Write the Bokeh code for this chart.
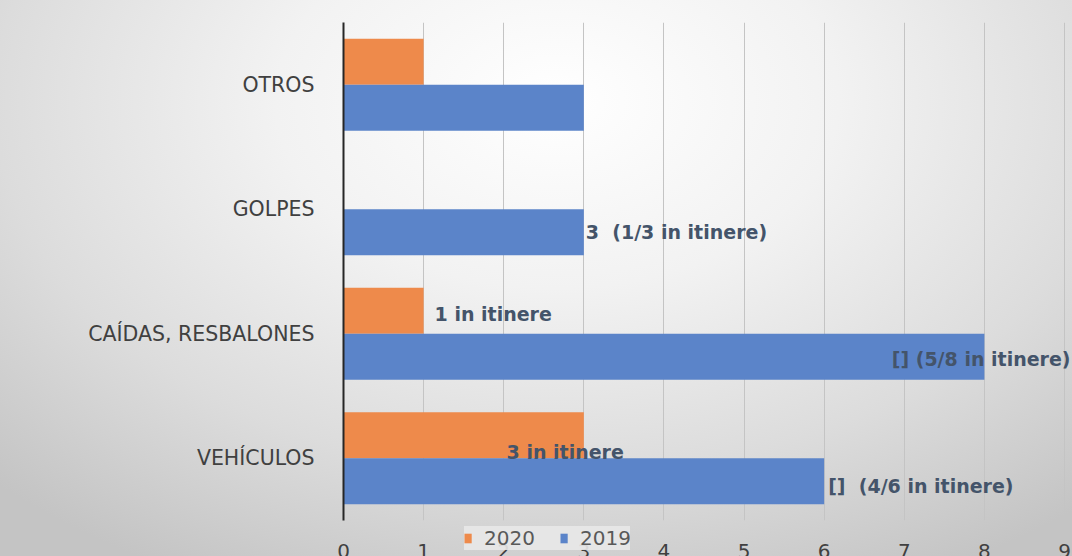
from bokeh.plotting import figure
from bokeh.layouts import column
from bokeh.models import (ColumnDataSource, Legend, LegendItem, InlineStyleSheet,
                          GlobalInlineStyleSheet, FixedTicker, Range1d)
from bokeh.transform import dodge
from bokeh.core.properties import value
from bokeh.embed import file_html
from bokeh.resources import INLINE

# ---- data ----
categories = ["VEHÍCULOS", "CAÍDAS, RESBALONES", "GOLPES", "OTROS"]
v2020 = [3, 1, 0, 1]
v2019 = [6, 8, 3, 3]
lbl2020 = ["3 in itinere", "1 in itinere", "", ""]
lbl2019 = ["[]  (4/6 in itinere)", "[] (5/8 in itinere)", "3  (1/3 in itinere)", ""]
series_names = ["2020", "2019"]
x_ticks = [0, 1, 2, 3, 4, 5, 6, 7, 8, 9]

ORANGE = "#EE8A4B"
BLUE = "#5B84C9"
LABEL_COLOR = "#44546A"
AXIS_TEXT = "#404040"
FONT = "DejaVu Sans"

# the chart is a little taller than the window: its bottom edge (tick labels) is cut, as in the reference
p = figure(width=1072, height=562, y_range=categories, x_range=Range1d(0, 9.1),
           output_backend="svg", toolbar_location=None,
           min_border_left=343, min_border_right=0, min_border_top=22, min_border_bottom=42)

p.stylesheets = [
    InlineStyleSheet(css=":host { background: radial-gradient(ellipse 75% 95% at 52% 18%, #ffffff 0%, #f2f2f2 35%, #dcdcdc 70%, #c4c4c4 100%); }"),
    GlobalInlineStyleSheet(css="html, body { overflow: hidden; }"),
]
p.background_fill_alpha = 0
p.border_fill_alpha = 0
p.outline_line_color = None
p.y_range.range_padding = 0

src = ColumnDataSource(dict(cat=categories, v2020=v2020, v2019=v2019))

r20 = p.hbar(y=dodge("cat", 0.185, range=p.y_range), right="v2020", left=0, height=0.37,
             source=src, fill_color=ORANGE, line_color=None)
r19 = p.hbar(y=dodge("cat", -0.185, range=p.y_range), right="v2019", left=0, height=0.37,
             source=src, fill_color=BLUE, line_color=None)

def nb(s):
    return s.replace("  ", "\u00a0\u00a0")

def sub(idx):
    return ColumnDataSource(dict(cat=[categories[i] for i in idx],
                                 v2020=[v2020[i] for i in idx],
                                 v2019=[v2019[i] for i in idx],
                                 l2020=[nb(lbl2020[i]) for i in idx],
                                 l2019=[nb(lbl2019[i]) for i in idx],
                                 xr=[p.x_range.end for i in idx]))

common = dict(text_font=value(FONT), text_font_size="19px", text_font_style="bold",
              text_color=LABEL_COLOR, text_baseline="middle")
y19 = dodge("cat", -0.185, range=p.y_range)
y20 = dodge("cat", 0.185, range=p.y_range)

# 2019 labels
p.text(x="v2019", y=y19, text="l2019", source=sub([2]), text_align="left", x_offset=2, **common)
p.text(x="v2019", y=y19, text="l2019", source=sub([0]), text_align="left", x_offset=4, y_offset=5, **common)
p.text(x="xr", y=y19, text="l2019", source=sub([1]), text_align="right", x_offset=-2, y_offset=2, **common)
# 2020 labels
p.text(x="v2020", y=y20, text="l2020", source=sub([1]), text_align="left", x_offset=11, y_offset=3, **common)
p.text(x="v2020", y=y20, text="l2020", source=sub([0]), text_align="right", x_offset=40, y_offset=17, **common)

# axes
p.xaxis.ticker = FixedTicker(ticks=x_ticks)
p.xaxis.axis_line_color = None
p.xaxis.major_tick_line_color = None
p.xaxis.minor_tick_line_color = None
p.xaxis.major_label_standoff = 17
p.xaxis.major_label_text_font = FONT
p.xaxis.major_label_text_font_size = "20px"
p.xaxis.major_label_text_color = AXIS_TEXT

p.yaxis.axis_line_color = "#262626"
p.yaxis.axis_line_width = 2
p.yaxis.major_tick_line_color = None
p.yaxis.minor_tick_line_color = None
p.yaxis.major_label_standoff = 23
p.yaxis.major_label_text_font = FONT
p.yaxis.major_label_text_font_size = "20.5px"
p.yaxis.major_label_text_color = AXIS_TEXT

p.xgrid.grid_line_color = "#c4c4c4"
p.xgrid.grid_line_width = 1
p.ygrid.grid_line_color = None

# ---- legend: a small transparent figure laid over the bottom edge of the chart ----
lg = figure(width=190, height=36, output_backend="svg", toolbar_location=None,
            x_axis_type=None, y_axis_type=None, x_range=(0, 1), y_range=(0, 1),
            min_border=0, margin=(-42, 0, 0, 452))
lg.background_fill_alpha = 0
lg.border_fill_alpha = 0
lg.outline_line_color = None
# zero-length swatch renderers (nothing visible in the frame), used only for the legend keys
k20 = lg.hbar(y=[0.5], left=[0], right=[0], height=0.5, fill_color=ORANGE, line_color=None)
k19 = lg.hbar(y=[0.5], left=[0], right=[0], height=0.5, fill_color=BLUE, line_color=None)
legend = Legend(items=[LegendItem(label=series_names[0], renderers=[k20]),
                       LegendItem(label=series_names[1], renderers=[k19])],
                orientation="horizontal", location="center",
                glyph_width=9, glyph_height=12, spacing=24, padding=5, label_standoff=12,
                label_text_font=FONT, label_text_font_size="20px", label_text_color="#595959",
                background_fill_color="#e8e8e8", background_fill_alpha=0.9,
                border_line_color=None, margin=0)
lg.add_layout(legend, "center")

layout = column(p, lg, spacing=0)
open("out.html", "w").write(file_html(layout, INLINE))
